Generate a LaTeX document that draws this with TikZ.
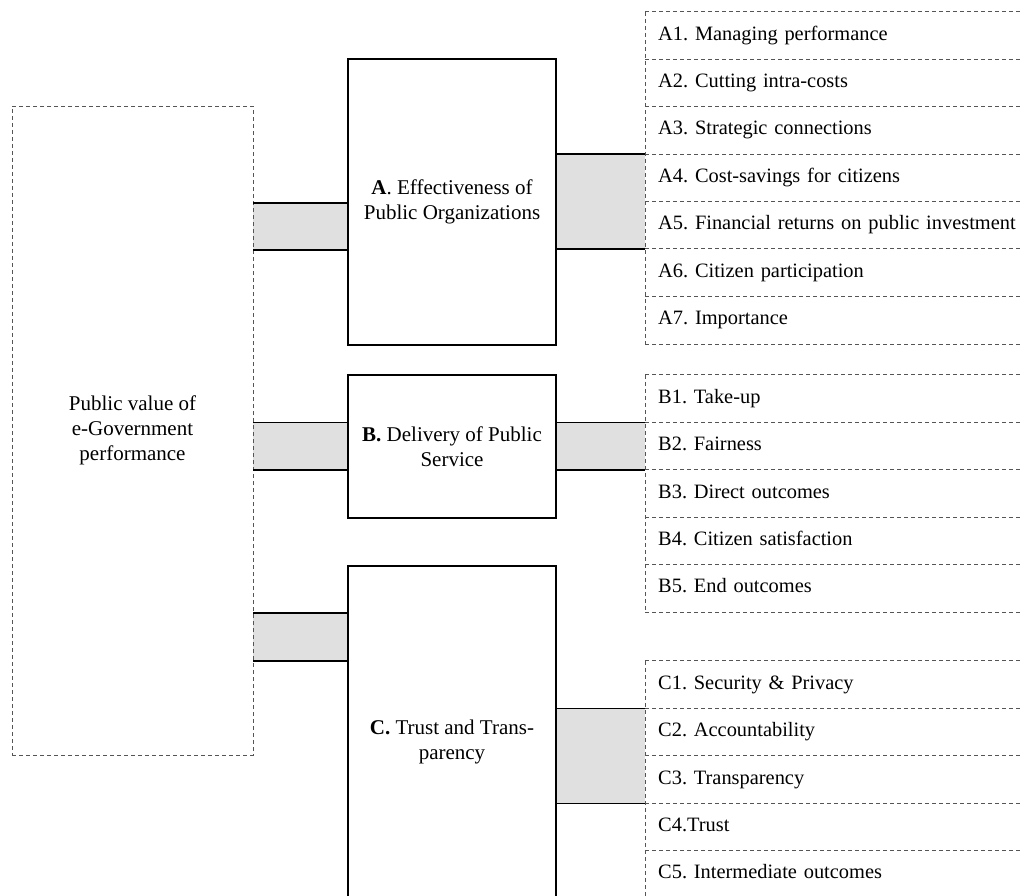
\documentclass[tikz,border=0pt]{standalone}
\usepackage{fontspec}
\setmainfont{Liberation Serif}
\usetikzlibrary{positioning,backgrounds}
\definecolor{linkgray}{RGB}{224,224,224}
\definecolor{dashgray}{RGB}{85,85,85}
\frenchspacing

\begin{document}
\begin{tikzpicture}[x=1pt, y=-1pt,
    txt/.style={font=\fontsize{21}{25}\selectfont},
    box/.style={rectangle, draw, line width=1.6pt, minimum width=208pt, align=center, inner sep=0pt, txt},
    valbox/.style={rectangle, draw=dashgray, line width=0.9pt, dash pattern=on 4pt off 3pt, minimum width=241pt, minimum height=649pt, align=center, txt},
    item/.style={rectangle, anchor=west, inner xsep=13pt, inner ysep=0pt, text width=372pt, minimum height=47.4pt, text height=14pt, text depth=5pt, align=left, font=\fontsize{20.4}{25}\selectfont},
    sep/.style={draw=dashgray, line width=0.9pt, dash pattern=on 4pt off 3pt},
    linkfill/.style={fill=linkgray},
    linkedge/.style={draw, line width=1.4pt}
]
    \useasboundingbox (0,0) rectangle (1023,896);
    \clip (0,0) rectangle (1023,896);

    % Public value box
    \node[valbox] (val) at (132.5, 430.5) {Public value of\\e-Government\\performance};

    % Dimension boxes
    \node[box, minimum height=286pt] (orgA) at (452, 202) {\textbf{A}. Effectiveness of\\Public Organizations};
    \node[box, minimum height=143pt] (orgB) at (452, 446.5) {\textbf{B.} Delivery of Public\\Service};
    \node[box, minimum height=352pt] (orgC) at (452, 742) {\textbf{C.} Trust and Trans-\\parency};

    % Indicator lists
    \foreach \t [count=\i] in {A1. Managing performance, A2. Cutting intra-costs, A3. Strategic connections, A4. Cost-savings for citizens, A5. Financial returns on public investment, A6. Citizen participation, A7. Importance}
        \node[item] (a\i) at (645, {12+47.4*(\i-0.5)}) {\t};
    \foreach \t [count=\i] in {B1. Take-up, B2. Fairness, B3. Direct outcomes, B4. Citizen satisfaction, B5. End outcomes}
        \node[item] (b\i) at (645, {375+47.4*(\i-0.5)}) {\t};
    \foreach \t [count=\i] in {C1. Security \& Privacy, C2. Accountability, C3. Transparency, C4.Trust, C5. Intermediate outcomes}
        \node[item] (c\i) at (645, {661+47.4*(\i-0.5)}) {\t};

    % Dashed row lines
    \foreach \r in {a1,a2,a3,a4,a5,a6,a7,b1,b2,b3,b4,b5,c1,c2,c3,c4,c5}
        \draw[sep] (\r.north west) -- (\r.north east);
    \draw[sep] (a7.south west) -- (a7.south east);
    \draw[sep] (b5.south west) -- (b5.south east);
    \draw[sep] (a1.north west) -- (a7.south west);
    \draw[sep] (b1.north west) -- (b5.south west);
    \draw[sep] (c1.north west) -- (c5.south west);

    % Grey links
    \begin{scope}[on background layer]
        \fill[linkfill] (val.east |- 0,203) rectangle (orgA.west |- 0,250);
        \fill[linkfill] (val.east |- b2.north) rectangle (orgB.west |- b2.south);
        \fill[linkfill] (val.east |- 0,613) rectangle (orgC.west |- 0,661);
        \fill[linkfill] (orgA.east |- a4.north) rectangle (a5.south west);
        \fill[linkfill] (orgB.east |- b2.north) rectangle (b2.south west);
        \fill[linkfill] (orgC.east |- c2.north) rectangle (c3.south west);
    \end{scope}
    \draw[linkedge] (val.east |- 0,203) -- (orgA.west |- 0,203)
                    (val.east |- 0,250) -- (orgA.west |- 0,250);
    \draw[linkedge] (val.east |- b2.north) -- (orgB.west |- b2.north)
                    (val.east |- b2.south) -- (orgB.west |- b2.south);
    \draw[linkedge] (val.east |- 0,613) -- (orgC.west |- 0,613)
                    (val.east |- 0,661) -- (orgC.west |- 0,661);
    \draw[linkedge] (orgA.east |- a4.north) -- (a4.north west)
                    (orgA.east |- a5.south) -- (a5.south west);
    \draw[linkedge] (orgB.east |- b2.north) -- (b2.north west)
                    (orgB.east |- b2.south) -- (b2.south west);
    \draw[linkedge] (orgC.east |- c2.north) -- (c2.north west)
                    (orgC.east |- c3.south) -- (c3.south west);
\end{tikzpicture}
\end{document}
